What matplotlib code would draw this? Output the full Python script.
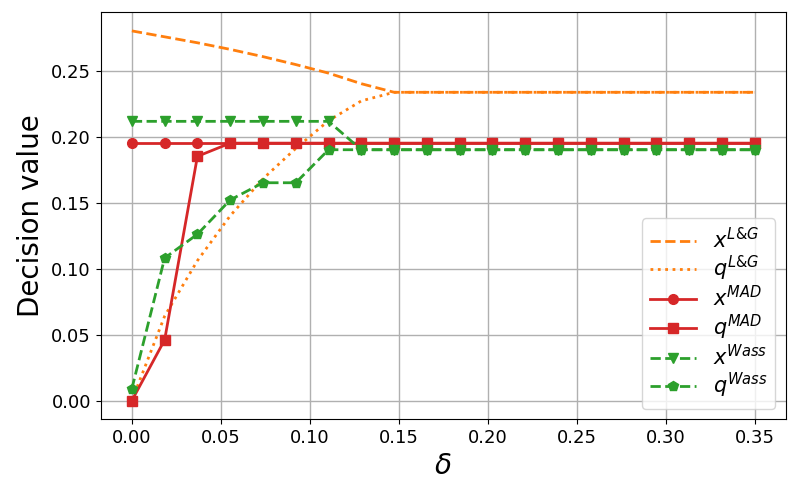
import numpy as np
import matplotlib
matplotlib.use("Agg")
import matplotlib.pyplot as plt

delta = np.linspace(0, 0.35, 20)

x_lg = [0.280, 0.2755, 0.2710, 0.2660, 0.2605, 0.2545, 0.2480, 0.2400, 0.2335] + [0.2335] * 11
q_lg = [0.0, 0.064, 0.106, 0.140, 0.168, 0.191, 0.212, 0.227, 0.2335] + [0.2335] * 11
x_mad = [0.195] * 20
q_mad = [0.0, 0.046, 0.185] + [0.195] * 17
x_wass = [0.2115] * 7 + [0.190] * 13
q_wass = [0.009, 0.108, 0.126, 0.152, 0.165, 0.165, 0.190] + [0.190] * 13

fig = plt.figure(figsize=(7.93, 4.96), dpi=100)
ax = fig.add_axes([0.127, 0.155, 0.864, 0.820])

ax.plot(delta, q_lg, color="tab:orange", linestyle=":", linewidth=2, label=r"$q^{L&G}$")
ax.plot(delta, x_lg, color="tab:orange", linestyle="--", linewidth=2, label=r"$x^{L&G}$")
ax.plot(delta, x_mad, color="tab:red", linestyle="-", marker="o", linewidth=2, markersize=7, label=r"$x^{MAD}$")
ax.plot(delta, q_mad, color="tab:red", linestyle="-", marker="s", linewidth=2, markersize=7, label=r"$q^{MAD}$")
ax.plot(delta, x_wass, color="tab:green", linestyle="--", marker="v", linewidth=2, markersize=7, label=r"$x^{Wass}$")
ax.plot(delta, q_wass, color="tab:green", linestyle="--", marker="p", linewidth=2, markersize=7, label=r"$q^{Wass}$")

ax.set_xticks(np.arange(0, 0.351, 0.05))
ax.set_yticks(np.arange(0, 0.251, 0.05))
ax.tick_params(labelsize=13)
ax.grid(True, color="#b0b0b0", linewidth=1)
ax.set_xlabel(r"$\delta$", fontsize=20)
ax.set_ylabel("Decision value", fontsize=20)

handles, labels = ax.get_legend_handles_labels()
order = [1, 0, 2, 3, 4, 5]
ax.legend([handles[i] for i in order], [labels[i] for i in order],
          loc="lower right", fontsize=15, handlelength=2.2, labelspacing=0.1)

fig.savefig("out.png", dpi=100)
